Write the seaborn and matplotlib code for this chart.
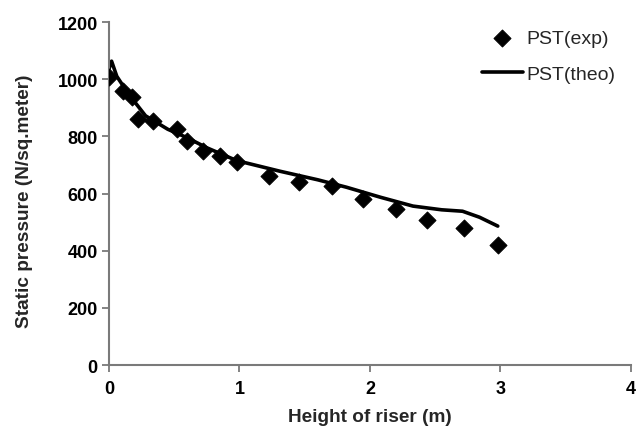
import matplotlib
matplotlib.use('Agg')
import matplotlib.pyplot as plt
import seaborn as sns
import pandas as pd

# 実験値 (exp)
height_exp = [0.0, 0.11, 0.18, 0.22, 0.34, 0.52, 0.60, 0.72, 0.85, 0.98,
              1.23, 1.46, 1.71, 1.95, 2.20, 2.44, 2.72, 2.98]
pst_exp = [1007, 958, 937, 860, 853, 825, 783, 748, 731, 710,
           661, 640, 626, 580, 545, 507, 479, 420]

# 理論値 (theo)
height_theo = [0.0, 0.02, 0.06, 0.15, 0.28, 0.45, 0.60, 0.75, 0.98, 1.31,
               1.60, 1.82, 2.08, 2.33, 2.55, 2.71, 2.84, 2.98]
pst_theo = [1035, 1063, 1010, 948, 872, 825, 795, 760, 715, 678,
            648, 622, 587, 556, 543, 538, 517, 486]

exp_df = pd.DataFrame({'h': height_exp, 'p': pst_exp})
theo_df = pd.DataFrame({'h': height_theo, 'p': pst_theo})

sns.set_style('ticks')
plt.rcParams['font.family'] = ['Liberation Sans', 'DejaVu Sans']

fig = plt.figure(figsize=(6.38, 4.31), dpi=100)
ax = fig.add_axes([0.1708, 0.1508, 0.818, 0.7958])

sns.lineplot(data=theo_df, x='h', y='p', ax=ax, color='black', linewidth=2.6,
             label='PST(theo)', zorder=2)
sns.scatterplot(data=exp_df, x='h', y='p', ax=ax, marker='D', color='black',
                s=75, edgecolor='black', label='PST(exp)', zorder=3)

ax.set_xlim(0, 4)
ax.set_ylim(0, 1200)
ax.set_xticks([0, 1, 2, 3, 4])
ax.set_yticks([0, 200, 400, 600, 800, 1000, 1200])
ax.set_xlabel('Height of riser (m)', fontsize=13.7, fontweight='bold')
ax.set_ylabel('Static pressure (N/sq.meter)', fontsize=13.7, fontweight='bold')
ax.xaxis.set_label_coords(0.5, -0.125)
ax.yaxis.set_label_coords(-0.146, 0.481)
for lab in ax.get_xticklabels() + ax.get_yticklabels():
    lab.set_fontweight('bold')
    lab.set_fontsize(13)

sns.despine(ax=ax)
for s in ['left', 'bottom']:
    ax.spines[s].set_color('#7a7a7a')
    ax.spines[s].set_linewidth(1.5)
ax.tick_params(colors='#7a7a7a', labelcolor='black', length=5, width=1.3)
ax.tick_params(axis='x', pad=6)
ax.tick_params(axis='y', pad=3)

# 凡例 (exp を上に)
h, l = ax.get_legend_handles_labels()
ax.legend(h[::-1], l[::-1], loc='upper left', bbox_to_anchor=(482 / 638, 1 - 30 / 431),
          bbox_transform=fig.transFigure, frameon=False, fontsize=14,
          labelspacing=0.95, handlelength=2.1, handletextpad=0.2,
          borderpad=0, borderaxespad=0)

fig.savefig('out.png', dpi=100)
